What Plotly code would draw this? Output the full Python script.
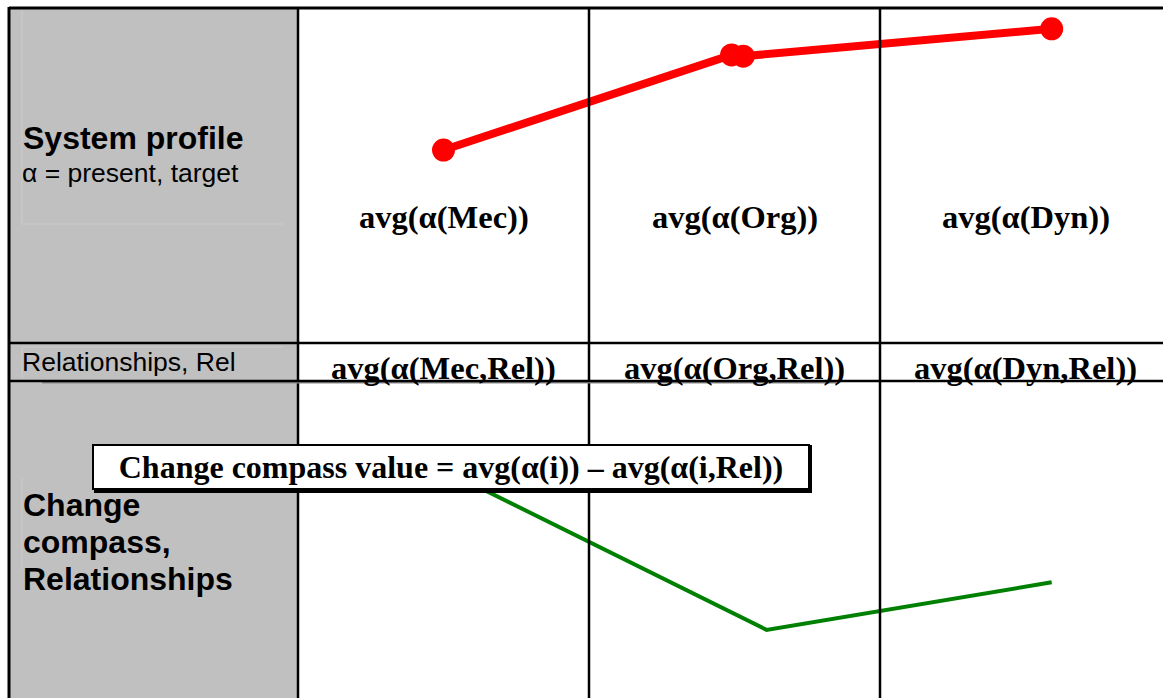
import plotly.graph_objects as go

W, H = 1163, 698

# Columns of the change-compass table (x axis in column units: Mec=1, Org=2, Dyn=3)
columns = ["Mec", "Org", "Dyn"]
column_x = [1, 2, 3]

# System profile, alpha = present, target (top row, scale 0-5)
profile_x = [1.0, 1.99, 2.03, 3.09]
profile_y = [2.88, 4.30, 4.28, 4.69]

# Change compass value = avg(alpha(i)) - avg(alpha(i,Rel)) (bottom row, scale -2..2)
compass_x = [1.0, 2.11, 3.09]
compass_y = [0.88, -1.14, -0.54]

# Row labels and cell texts
profile_title = "System profile"
profile_sub = "α = present, target"
rel_label = "Relationships, Rel"
compass_label_lines = ["Change", "compass,", "Relationships"]
formula = "Change compass value = avg(α(i)) – avg(α(i,Rel))"
top_cells = [f"avg(α({c}))" for c in columns]
rel_cells = [f"avg(α({c},Rel))" for c in columns]


def px(x):
    return x / W


def py(y):
    return 1 - y / H


SANS = "Liberation Sans, Arial, sans-serif"
SERIF = "Liberation Serif, Times New Roman, serif"

fig = go.Figure()

fig.add_trace(go.Scatter(
    x=profile_x, y=profile_y, mode="lines+markers",
    line=dict(color="#FF0000", width=8),
    marker=dict(color="#FF0000", size=23),
    xaxis="x", yaxis="y", hoverinfo="skip", showlegend=False,
))
fig.add_trace(go.Scatter(
    x=compass_x, y=compass_y, mode="lines",
    line=dict(color="#008000", width=4),
    xaxis="x", yaxis="y2", hoverinfo="skip", showlegend=False,
))

shapes = []
# grey label column
shapes.append(dict(type="rect", xref="paper", yref="paper",
                   x0=px(10), x1=px(297), y0=py(698), y1=py(8),
                   fillcolor="#C0C0C0", line=dict(width=0), layer="below"))
# faint inner cell outlines in the label column
for (x0, y0, x1, y1) in [(22, 10, 22, 224), (22, 224, 283, 224),
                         (22, 347, 22, 378), (22, 347, 283, 347),
                         (22, 478, 22, 570)]:
    shapes.append(dict(type="line", xref="paper", yref="paper",
                       x0=px(x0), x1=px(x1), y0=py(y0), y1=py(y1),
                       line=dict(color="#CCCCCC", width=1), layer="below"))
# table grid
line_k = dict(color="#000000", width=2.5)
shapes.append(dict(type="line", xref="paper", yref="paper",
                   x0=px(9), x1=px(W), y0=py(8), y1=py(8), line=dict(color="#000", width=3)))
shapes.append(dict(type="line", xref="paper", yref="paper",
                   x0=px(9), x1=px(9), y0=py(7), y1=py(H), line=dict(color="#000", width=3)))
for xb in [0.5, 1.5, 2.5]:
    shapes.append(dict(type="line", xref="x", yref="paper",
                       x0=xb, x1=xb, y0=py(8), y1=0, line=line_k))
# grey underline along the Rel row
shapes.append(dict(type="line", xref="paper", yref="paper",
                   x0=px(42), x1=px(836), y0=py(382.5), y1=py(382.5),
                   line=dict(color="#8A8A8A", width=2)))
# drop shadow of the formula box
shapes.append(dict(type="rect", xref="paper", yref="paper",
                   x0=px(94), x1=px(812), y0=py(493), y1=py(445),
                   fillcolor="#000000", line=dict(width=0)))

annotations = [
    dict(text=f"<b>{profile_title}</b>", x=px(21), y=py(138), xanchor="left", yanchor="middle",
         font=dict(family=SANS, size=32, color="#000")),
    dict(text=profile_sub, x=px(20), y=py(173), xanchor="left", yanchor="middle",
         font=dict(family=SANS, size=26.5, color="#000")),
    dict(text=rel_label, x=px(20), y=py(362), xanchor="left", yanchor="middle",
         font=dict(family=SANS, size=26.5, color="#000")),
]
for i, ln in enumerate(compass_label_lines):
    annotations.append(dict(text=f"<b>{ln}</b>", x=px(21), y=py(505 + 37 * i),
                            xanchor="left", yanchor="middle",
                            font=dict(family=SANS, size=32, color="#000")))
for cx, t in zip(column_x, top_cells):
    annotations.append(dict(text=f"<b>{t}</b>", x=cx, xref="x", y=py(217), yref="paper",
                            xanchor="center", yanchor="middle",
                            font=dict(family=SERIF, size=32.5, color="#000")))
for cx, t in zip(column_x, rel_cells):
    annotations.append(dict(text=f"<b>{t}</b>", x=cx, xref="x", y=py(368), yref="paper",
                            xanchor="center", yanchor="middle",
                            font=dict(family=SERIF, size=32.5, color="#000")))
annotations.append(dict(text=f"<b>{formula}</b>", x=px(451), y=py(466.5),
                        xanchor="center", yanchor="middle", width=712, height=40,
                        bgcolor="#FFFFFF", bordercolor="#000000", borderwidth=2, borderpad=1,
                        font=dict(family=SERIF, size=32, color="#000")))
for a in annotations:
    a.setdefault("xref", "paper")
    a.setdefault("yref", "paper")
    a["showarrow"] = False

x_lo = 1.5 + (0 - 589) / 291
x_hi = 1.5 + (W - 589) / 291

fig.update_layout(
    width=W, height=H,
    margin=dict(l=0, r=0, t=0, b=0),
    paper_bgcolor="#FFFFFF", plot_bgcolor="rgba(0,0,0,0)",
    xaxis=dict(range=[x_lo, x_hi], visible=False, fixedrange=True),
    yaxis=dict(range=[0, 5], domain=[py(343), py(8)], visible=False, fixedrange=True),
    yaxis2=dict(range=[-2, 2], domain=[0, py(381)], visible=False, fixedrange=True),
    shapes=shapes,
    annotations=annotations,
)

# row separators drawn over the cell texts, as in the table
for yb in [343, 381]:
    fig.add_shape(type="line", xref="paper", yref="paper",
                  x0=px(9), x1=px(W), y0=py(yb), y1=py(yb),
                  line=dict(color="#000000", width=2.5), layer="above")

fig.write_html("out.html", config={"displayModeBar": False})
